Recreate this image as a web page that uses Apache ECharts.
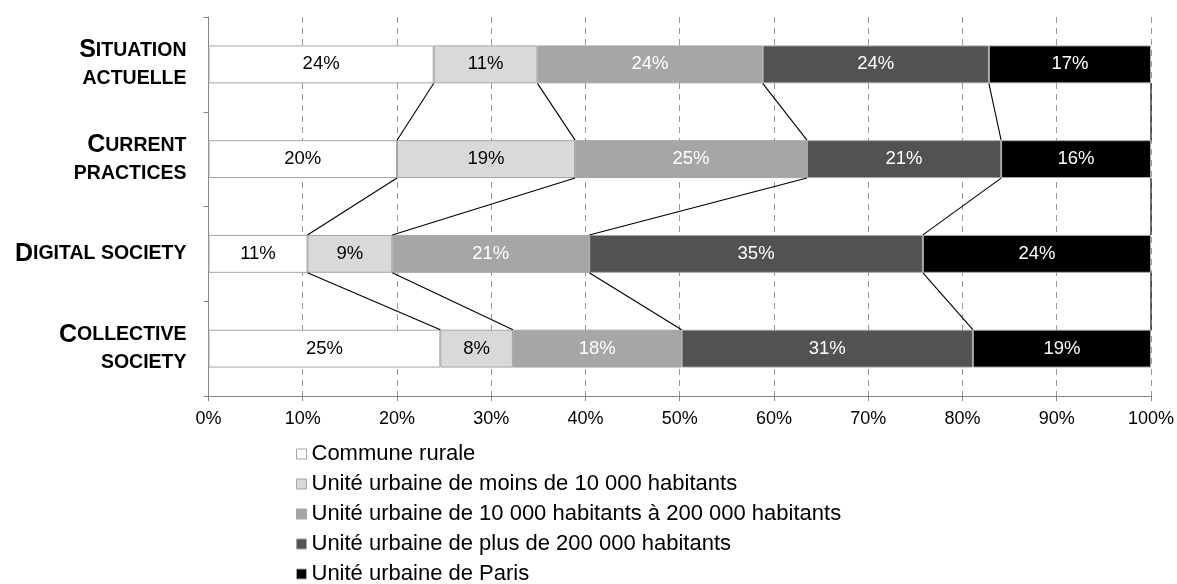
<!DOCTYPE html>
<html>
<head>
<meta charset="utf-8">
<script src="https://cdn.jsdelivr.net/npm/echarts@6/dist/echarts.min.js"></script>
<style>
  html, body { margin: 0; padding: 0; background: #fff; }
  #chart { width: 1177px; height: 584px; }
</style>
</head>
<body>
<div id="chart"></div>
<script>
// ---- data ----
var categories = ['Situation\nactuelle', 'Current\npractices', 'Digital society', 'Collective\nsociety'];
var seriesNames = [
  'Commune rurale',
  'Unité urbaine de moins de 10 000 habitants',
  'Unité urbaine de 10 000 habitants à 200 000 habitants',
  'Unité urbaine de plus de 200 000 habitants',
  'Unité urbaine de Paris'
];
var communeRurale   = [23.9, 20.0, 10.5, 24.6];
var moins10000      = [11.0, 18.9,  9.0,  7.7];
var de10000a200000  = [23.9, 24.6, 20.9, 17.9];
var plus200000      = [24.0, 20.6, 35.4, 30.9];
var paris           = [17.2, 15.9, 24.2, 18.9];
var xTicks = [0, 10, 20, 30, 40, 50, 60, 70, 80, 90, 100];

// ---- styles ----
var colors = ['#ffffff', '#d9d9d9', '#a6a6a6', '#525252', '#000000'];
var labelColors = ['#000000', '#000000', '#ffffff', '#ffffff', '#ffffff'];
var FONT = '"Liberation Sans", Arial, sans-serif';

var seriesValues = [communeRurale, moins10000, de10000a200000, plus200000, paris];

// build series-line segments from cumulative boundaries
var segs = [];
for (var c = 0; c < categories.length - 1; c++) {
  var cumA = 0, cumB = 0;
  for (var s = 0; s < seriesValues.length; s++) {
    cumA += seriesValues[s][c];
    cumB += seriesValues[s][c + 1];
    segs.push([cumA, c, cumB, c + 1]);
  }
}

function smallCaps(value) {
  return value.split('\n').map(function (line) {
    var out = '';
    var buf = '';
    for (var i = 0; i < line.length; i++) {
      var ch = line[i];
      if (ch !== ch.toLowerCase()) {
        if (buf) { out += '{s|' + buf + '}'; buf = ''; }
        out += '{b|' + ch + '}';
      } else {
        buf += ch.toUpperCase();
      }
    }
    if (buf) out += '{s|' + buf + '}';
    return out;
  }).join('\n');
}

var series = seriesNames.map(function (name, i) {
  return {
    name: name,
    type: 'bar',
    stack: 'total',
    barWidth: '40%',
    data: seriesValues[i],
    itemStyle: { color: colors[i], borderColor: '#a5a5a5', borderWidth: 1 },
    label: {
      show: true,
      position: 'inside',
      color: labelColors[i],
      fontFamily: FONT,
      fontSize: 18.5,
      formatter: function (p) { return Math.round(p.value) + '%'; }
    },
    emphasis: { disabled: true },
    animation: false
  };
});

series.push({
  type: 'custom',
  name: 'seriesLines',
  data: segs,
  encode: { x: [0, 2], y: [1, 3] },
  z: 5,
  silent: true,
  animation: false,
  renderItem: function (params, api) {
    var p1 = api.coord([api.value(0), api.value(1)]);
    var p2 = api.coord([api.value(2), api.value(3)]);
    var band = api.size([0, 1])[1];
    var half = band * 0.2;
    return {
      type: 'line',
      shape: { x1: p1[0], y1: p1[1] + half, x2: p2[0], y2: p2[1] - half },
      style: { stroke: '#000000', lineWidth: 1.1 }
    };
  }
});

var chart = echarts.init(document.getElementById('chart'), null, { renderer: 'canvas' });
chart.setOption({
  backgroundColor: '#ffffff',
  animation: false,
  grid: { left: 208.5, right: 25, top: 17, bottom: 188, containLabel: false },
  xAxis: {
    type: 'value',
    min: 0, max: 100, interval: 10,
    axisLine: { show: true, lineStyle: { color: '#868686', width: 1 } },
    axisTick: { show: true, length: 5, lineStyle: { color: '#868686' } },
    splitLine: { show: true, lineStyle: { color: '#9a9a9a', type: [6, 5], width: 1 } },
    axisLabel: {
      margin: 14,
      color: '#000000',
      fontFamily: FONT,
      fontSize: 18,
      formatter: function (v) { return xTicks.indexOf(v) >= 0 ? v + '%' : ''; }
    }
  },
  yAxis: {
    type: 'category',
    data: categories,
    inverse: true,
    axisLine: { show: true, lineStyle: { color: '#868686', width: 1 } },
    axisTick: { show: true, length: 5, lineStyle: { color: '#868686' } },
    splitLine: { show: false },
    axisLabel: {
      margin: 22,
      color: '#000000',
      formatter: smallCaps,
      rich: {
        b: { fontFamily: FONT, fontWeight: 'bold', fontSize: 25, lineHeight: 28, color: '#000' },
        s: { fontFamily: FONT, fontWeight: 'bold', fontSize: 19.5, lineHeight: 28, color: '#000' }
      }
    }
  },
  legend: {
    data: seriesNames,
    orient: 'vertical',
    left: 296,
    top: 443,
    height: 200,
    padding: 0,
    itemWidth: 10,
    itemHeight: 10,
    itemGap: 8,
    icon: 'rect',
    selectedMode: false,
    itemStyle: { borderColor: '#a5a5a5', borderWidth: 1 },
    textStyle: { fontFamily: FONT, fontSize: 22, lineHeight: 22, color: '#000000', padding: [0, 0, 0, 0] }
  },
  series: series
});
</script>
</body>
</html>
